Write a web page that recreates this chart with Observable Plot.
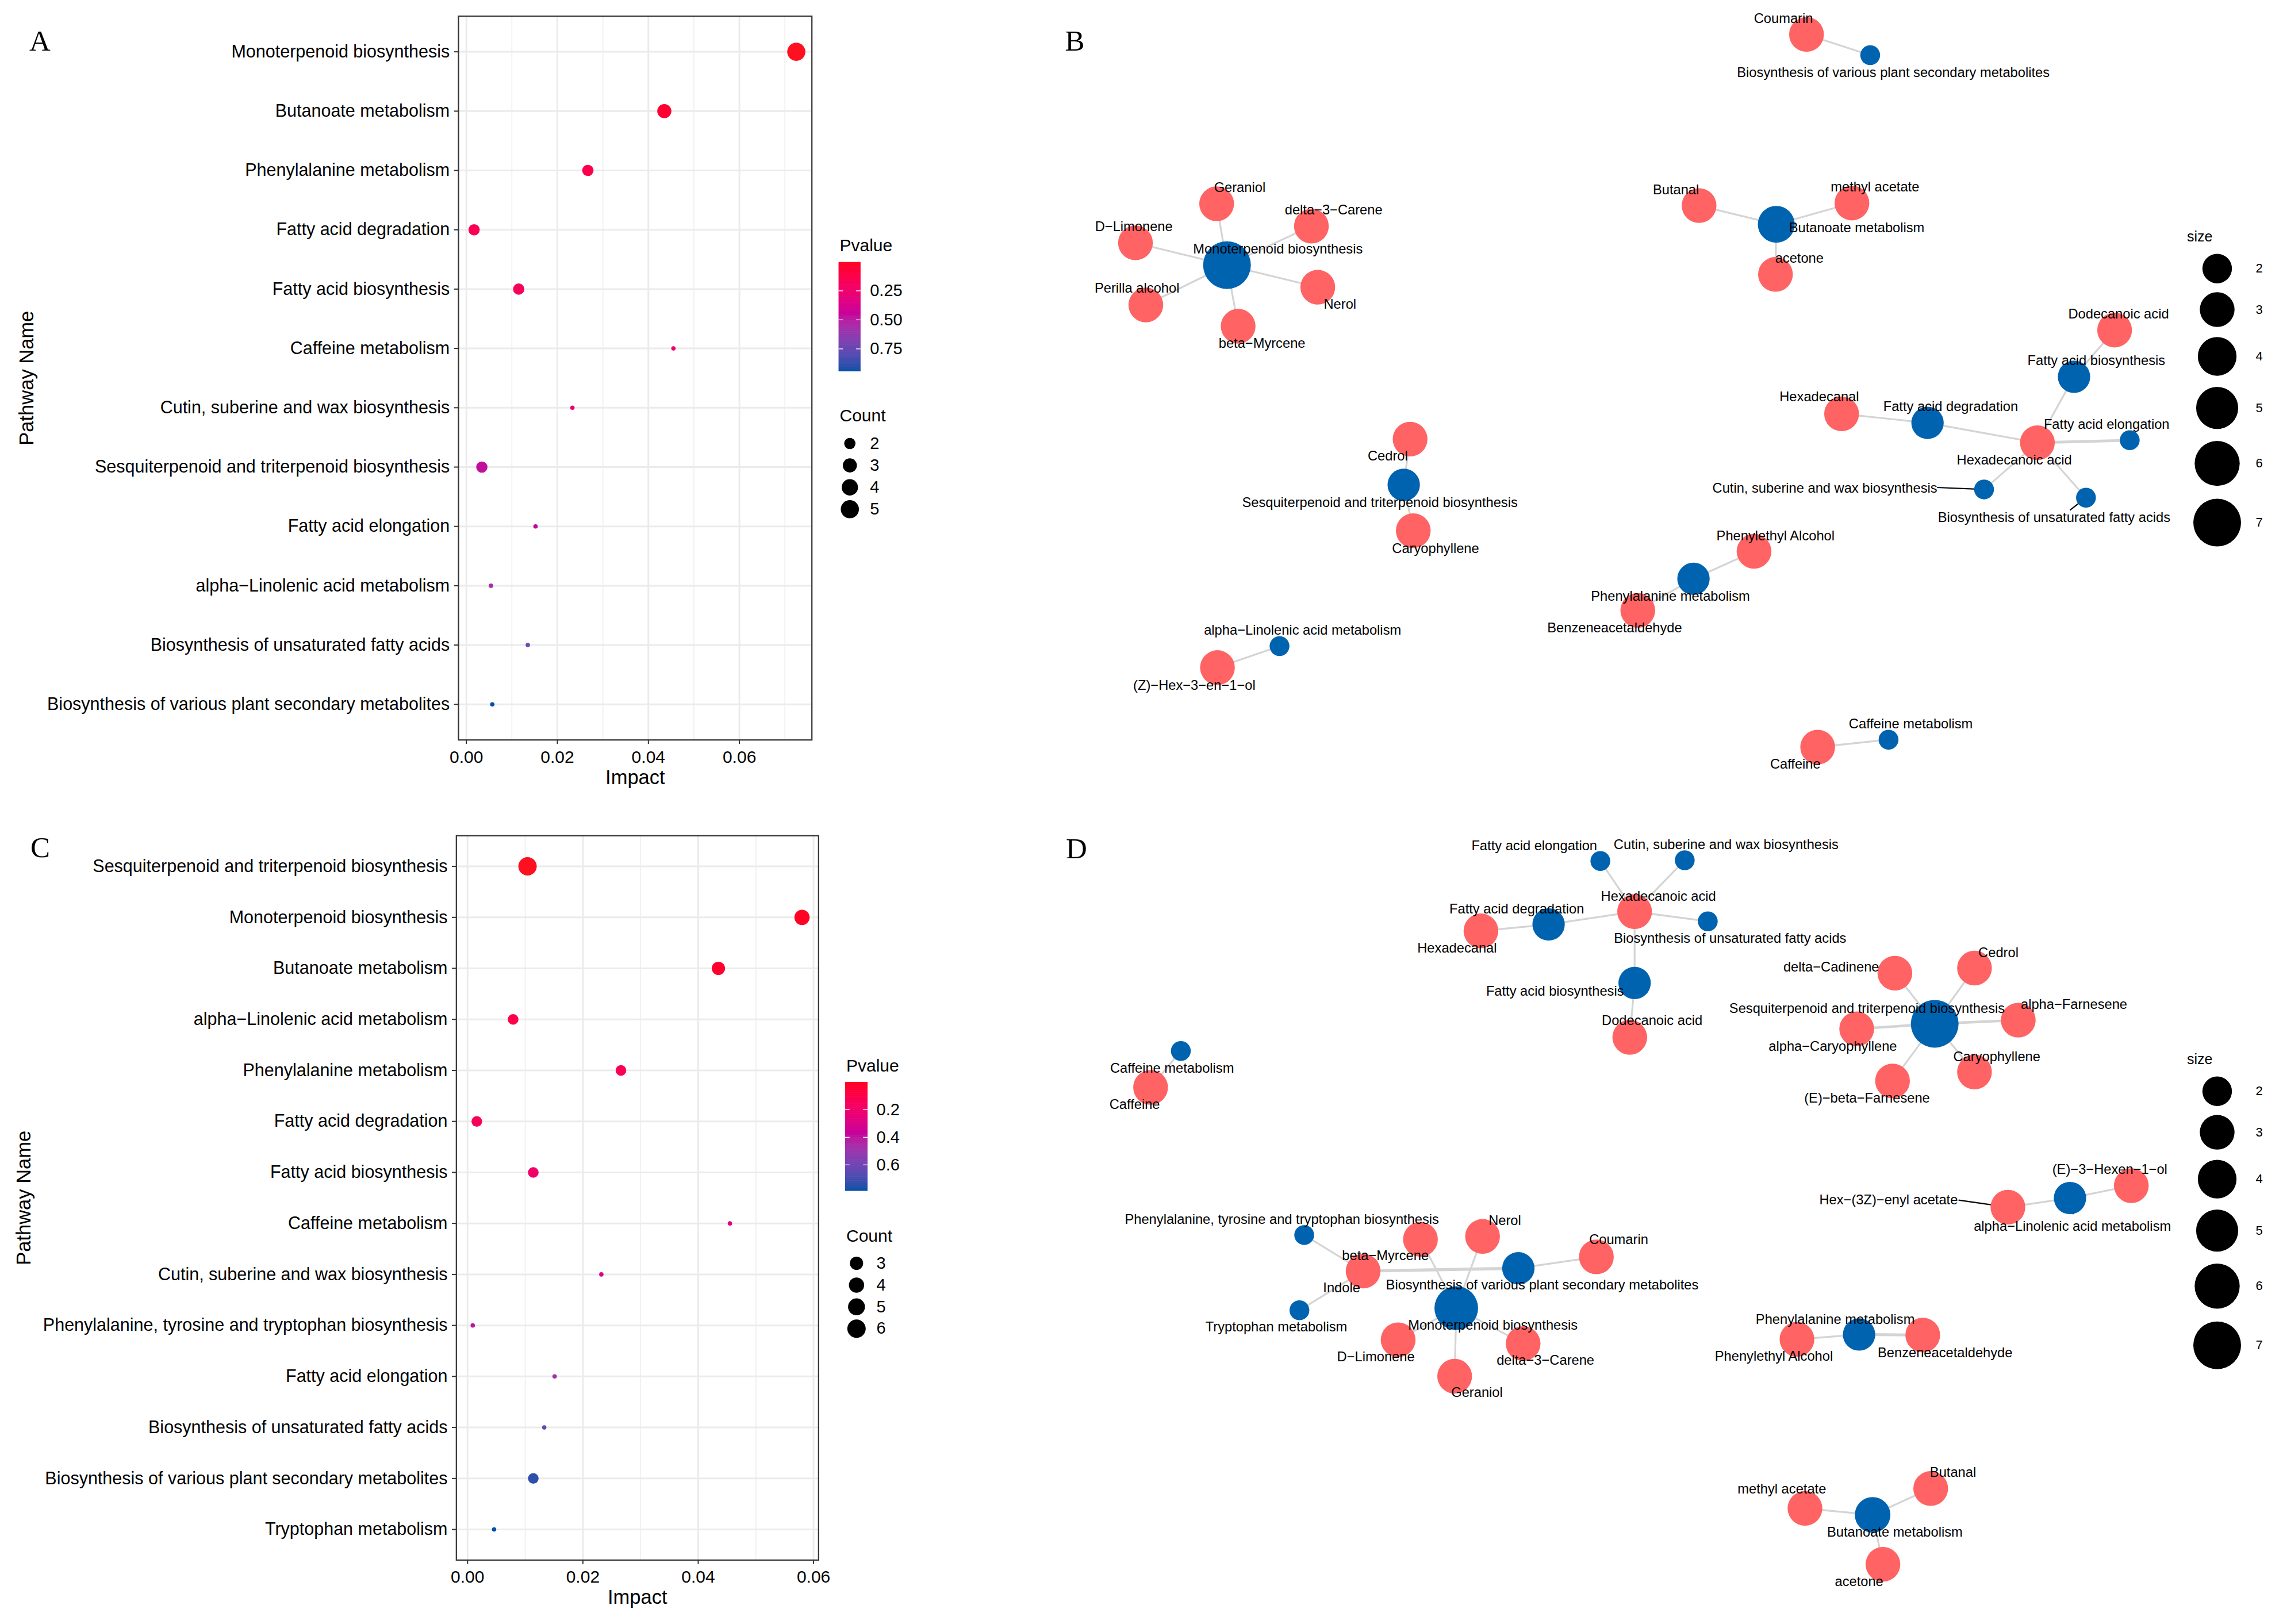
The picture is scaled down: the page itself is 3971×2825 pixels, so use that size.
<!DOCTYPE html>
<html>
<head>
<meta charset="utf-8">
<script src="https://cdn.jsdelivr.net/npm/d3@7"></script>
<script src="https://cdn.jsdelivr.net/npm/@observablehq/plot@0.6"></script>
<style>
html, body { margin: 0; padding: 0; background: #fff; }
#fig { position: relative; width: 3971px; height: 2825px; background: #fff; overflow: hidden; }
#fig svg { position: absolute; max-width: none; background: transparent; overflow: visible; }
</style>
</head>
<body>
<div id="fig"></div>
<script>
// ---------------- DATA ----------------
// Panel A : pathway enrichment (top-left)
const pathwaysA = [
  "Monoterpenoid biosynthesis",
  "Butanoate metabolism",
  "Phenylalanine metabolism",
  "Fatty acid degradation",
  "Fatty acid biosynthesis",
  "Caffeine metabolism",
  "Cutin, suberine and wax biosynthesis",
  "Sesquiterpenoid and triterpenoid biosynthesis",
  "Fatty acid elongation",
  "alpha\u2212Linolenic acid metabolism",
  "Biosynthesis of unsaturated fatty acids",
  "Biosynthesis of various plant secondary metabolites"
];
const impactA = [0.0725, 0.0435, 0.0267, 0.0017, 0.0115, 0.0455, 0.0233, 0.0034, 0.0152, 0.0054, 0.0135, 0.0057];
const pvalueA = [0.004, 0.05, 0.14, 0.16, 0.19, 0.24, 0.30, 0.47, 0.45, 0.55, 0.72, 0.946];
const countA  = [5, 3, 2, 2, 2, 1, 1, 2, 1, 1, 1, 1];
const impactTicksA = [0, 0.02, 0.04, 0.06];
const impactMinorA = [0.01, 0.03, 0.05, 0.07];
const pTicksA = [0.25, 0.50, 0.75];
const countBreaksA = [2, 3, 4, 5];

// Panel C : pathway enrichment (bottom-left)
const pathwaysC = [
  "Sesquiterpenoid and triterpenoid biosynthesis",
  "Monoterpenoid biosynthesis",
  "Butanoate metabolism",
  "alpha\u2212Linolenic acid metabolism",
  "Phenylalanine metabolism",
  "Fatty acid degradation",
  "Fatty acid biosynthesis",
  "Caffeine metabolism",
  "Cutin, suberine and wax biosynthesis",
  "Phenylalanine, tyrosine and tryptophan biosynthesis",
  "Fatty acid elongation",
  "Biosynthesis of unsaturated fatty acids",
  "Biosynthesis of various plant secondary metabolites",
  "Tryptophan metabolism"
];
const impactC = [0.0104, 0.0580, 0.0435, 0.0079, 0.0266, 0.0016, 0.0114, 0.0455, 0.0232, 0.0009, 0.0151, 0.0133, 0.0114, 0.0046];
const pvalueC = [0.0005, 0.01, 0.03, 0.10, 0.13, 0.15, 0.20, 0.27, 0.31, 0.40, 0.48, 0.63, 0.74, 0.79];
const countC  = [6, 4, 3, 2, 2, 2, 2, 1, 1, 1, 1, 1, 2, 1];
const impactTicksC = [0, 0.02, 0.04, 0.06];
const impactMinorC = [0.01, 0.03, 0.05];
const pTicksC = [0.2, 0.4, 0.6];
const countBreaksC = [3, 4, 5, 6];

// Panel B network: [name, kind, size, layoutX, layoutY, labelX, labelY]
const nodesB = [
  ["Coumarin", "compound", 3, 134.17, 5.94, 130.16, 3.21],
  ["Biosynthesis of various plant secondary metabolites", "pathway", 1.05, 145.25, 9.55, 149.27, 12.63],
  ["Monoterpenoid biosynthesis", "pathway", 7, 33.37, 46.07, 42.23, 43.30],
  ["Geraniol", "compound", 3, 31.57, 35.40, 35.59, 32.59],
  ["delta\u22123\u2212Carene", "compound", 3, 48.05, 39.29, 51.92, 36.52],
  ["D\u2212Limonene", "compound", 3, 17.45, 42.19, 17.17, 39.38],
  ["Perilla alcohol", "compound", 3, 19.25, 53.00, 17.72, 50.13],
  ["beta\u2212Myrcene", "compound", 3, 35.31, 56.70, 39.46, 59.73],
  ["Nerol", "compound", 3, 49.16, 49.91, 53.03, 52.90],
  ["Butanoate metabolism", "pathway", 3.5, 128.91, 38.97, 142.90, 39.64],
  ["Butanal", "compound", 3, 115.48, 35.71, 111.46, 32.95],
  ["methyl acetate", "compound", 3, 142.07, 35.27, 146.08, 32.50],
  ["acetone", "compound", 3, 128.77, 47.68, 132.93, 44.87],
  ["Dodecanoic acid", "compound", 3, 187.76, 57.37, 188.45, 54.55],
  ["Fatty acid biosynthesis", "pathway", 2.5, 180.70, 65.49, 184.58, 62.72],
  ["Hexadecanal", "compound", 3, 140.27, 71.94, 136.39, 68.97],
  ["Fatty acid degradation", "pathway", 2.5, 155.22, 73.51, 159.24, 70.74],
  ["Hexadecanoic acid", "compound", 3, 174.33, 76.96, 170.31, 79.97],
  ["Fatty acid elongation", "pathway", 1.05, 190.39, 76.53, 186.37, 73.75],
  ["Cutin, suberine and wax biosynthesis", "pathway", 1.05, 165.05, 85.09, 137.36, 84.85],
  ["Biosynthesis of unsaturated fatty acids", "pathway", 1.05, 182.78, 86.52, 177.24, 89.97],
  ["Cedrol", "compound", 3, 65.22, 76.34, 61.34, 79.25],
  ["Sesquiterpenoid and triterpenoid biosynthesis", "pathway", 2.5, 64.11, 84.28, 59.96, 87.38],
  ["Caryophyllene", "compound", 3, 65.77, 92.26, 69.65, 95.37],
  ["Phenylethyl Alcohol", "compound", 3, 125.04, 95.85, 128.78, 93.22],
  ["Phenylalanine metabolism", "pathway", 2.5, 114.51, 100.63, 110.50, 103.74],
  ["Benzeneacetaldehyde", "compound", 3, 104.82, 106.13, 100.80, 109.24],
  ["alpha\u2212Linolenic acid metabolism", "pathway", 1.05, 42.51, 112.35, 46.52, 109.63],
  ["(Z)\u2212Hex\u22123\u2212en\u22121\u2212ol", "compound", 3, 31.71, 116.08, 27.69, 119.19],
  ["Caffeine metabolism", "pathway", 1.05, 148.44, 128.62, 152.31, 125.89],
  ["Caffeine", "compound", 3, 136.11, 129.91, 132.23, 132.92]
];
// [source, target, weight]
const edgesB = [
  ["Coumarin", "Biosynthesis of various plant secondary metabolites", 1],
  ["Monoterpenoid biosynthesis", "Geraniol", 1],
  ["Monoterpenoid biosynthesis", "delta\u22123\u2212Carene", 1],
  ["Monoterpenoid biosynthesis", "D\u2212Limonene", 1],
  ["Monoterpenoid biosynthesis", "Perilla alcohol", 1],
  ["Monoterpenoid biosynthesis", "beta\u2212Myrcene", 1],
  ["Monoterpenoid biosynthesis", "Nerol", 1],
  ["Butanoate metabolism", "Butanal", 1],
  ["Butanoate metabolism", "methyl acetate", 1],
  ["Butanoate metabolism", "acetone", 1],
  ["Dodecanoic acid", "Fatty acid biosynthesis", 1],
  ["Fatty acid biosynthesis", "Hexadecanoic acid", 1],
  ["Hexadecanal", "Fatty acid degradation", 1],
  ["Fatty acid degradation", "Hexadecanoic acid", 1],
  ["Hexadecanoic acid", "Fatty acid elongation", 1.5],
  ["Hexadecanoic acid", "Cutin, suberine and wax biosynthesis", 1],
  ["Hexadecanoic acid", "Biosynthesis of unsaturated fatty acids", 1],
  ["Cedrol", "Sesquiterpenoid and triterpenoid biosynthesis", 1],
  ["Sesquiterpenoid and triterpenoid biosynthesis", "Caryophyllene", 1],
  ["Phenylethyl Alcohol", "Phenylalanine metabolism", 1],
  ["Phenylalanine metabolism", "Benzeneacetaldehyde", 1],
  ["alpha\u2212Linolenic acid metabolism", "(Z)\u2212Hex\u22123\u2212en\u22121\u2212ol", 1],
  ["Caffeine metabolism", "Caffeine", 1]
];
// label leader lines: [node, startX, startY]
const leadersB = [
  ["Cutin, suberine and wax biosynthesis", 156.88, 84.75],
  ["Biosynthesis of unsaturated fatty acids", 180.00, 88.68]
];

// Panel D network
const nodesD = [
  ["Fatty acid elongation", "pathway", 1.05, 98.31, 9.73, 86.82, 7.05],
  ["Cutin, suberine and wax biosynthesis", "pathway", 1.05, 112.99, 9.60, 120.19, 6.92],
  ["Hexadecanoic acid", "compound", 3, 104.27, 18.53, 108.42, 15.85],
  ["Fatty acid degradation", "pathway", 2.5, 89.31, 20.76, 83.77, 18.08],
  ["Hexadecanal", "compound", 3, 77.54, 21.88, 73.39, 24.91],
  ["Biosynthesis of unsaturated fatty acids", "pathway", 1.05, 117.00, 20.22, 120.88, 23.21],
  ["Fatty acid biosynthesis", "pathway", 2.5, 104.27, 30.94, 90.42, 32.37],
  ["Dodecanoic acid", "compound", 3, 103.43, 40.40, 107.31, 37.50],
  ["delta\u2212Cadinene", "compound", 3, 149.54, 29.24, 138.47, 28.21],
  ["Cedrol", "compound", 3, 163.39, 28.35, 167.55, 25.67],
  ["Sesquiterpenoid and triterpenoid biosynthesis", "pathway", 7, 156.47, 38.04, 144.70, 35.36],
  ["alpha\u2212Farnesene", "compound", 3, 171.00, 37.41, 180.70, 34.69],
  ["alpha\u2212Caryophyllene", "compound", 3, 142.90, 38.93, 138.74, 41.96],
  ["Caryophyllene", "compound", 3, 163.39, 46.43, 167.27, 43.75],
  ["(E)\u2212beta\u2212Farnesene", "compound", 3, 149.13, 47.99, 144.70, 50.98],
  ["Caffeine metabolism", "pathway", 1.05, 25.34, 42.77, 23.82, 45.76],
  ["Caffeine", "compound", 3, 20.08, 49.11, 17.31, 52.14],
  ["Hex\u2212(3Z)\u2212enyl acetate", "compound", 3, 169.20, 69.94, 148.44, 68.71],
  ["alpha\u2212Linolenic acid metabolism", "pathway", 2.5, 180.00, 68.36, 180.42, 73.30],
  ["(E)\u22123\u2212Hexen\u22121\u2212ol", "compound", 3, 190.67, 66.20, 186.93, 63.39],
  ["Phenylalanine, tyrosine and tryptophan biosynthesis", "pathway", 1.05, 46.80, 74.79, 42.92, 72.07],
  ["beta\u2212Myrcene", "compound", 3, 67.02, 75.53, 60.92, 78.35],
  ["Nerol", "compound", 3, 77.82, 75.03, 81.70, 72.31],
  ["Coumarin", "compound", 3, 97.62, 78.59, 101.50, 75.63],
  ["Indole", "compound", 3, 57.05, 81.06, 53.31, 84.03],
  ["Biosynthesis of various plant secondary metabolites", "pathway", 2.5, 84.05, 80.57, 88.20, 83.53],
  ["Tryptophan metabolism", "pathway", 1.05, 45.97, 87.88, 41.95, 90.80],
  ["Monoterpenoid biosynthesis", "pathway", 5.5, 73.25, 87.49, 79.62, 90.45],
  ["D\u2212Limonene", "compound", 3, 63.14, 93.02, 59.26, 96.04],
  ["delta\u22123\u2212Carene", "compound", 3, 84.88, 93.67, 88.76, 96.63],
  ["Geraniol", "compound", 3, 72.97, 99.35, 76.85, 102.17],
  ["Phenylalanine metabolism", "pathway", 2.5, 143.31, 92.09, 139.16, 89.47],
  ["Phenylethyl Alcohol", "compound", 3, 132.51, 92.93, 128.50, 95.89],
  ["Benzeneacetaldehyde", "compound", 3, 154.39, 92.19, 158.27, 95.25],
  ["Butanal", "compound", 3, 155.77, 118.88, 159.65, 116.06],
  ["methyl acetate", "compound", 3, 133.90, 122.33, 129.88, 119.02],
  ["Butanoate metabolism", "pathway", 3.2, 145.67, 123.47, 149.54, 126.54],
  ["acetone", "compound", 3, 147.46, 132.07, 143.31, 135.09]
];
const edgesD = [
  ["Fatty acid elongation", "Hexadecanoic acid", 1],
  ["Cutin, suberine and wax biosynthesis", "Hexadecanoic acid", 1],
  ["Hexadecanoic acid", "Fatty acid degradation", 1],
  ["Fatty acid degradation", "Hexadecanal", 1],
  ["Hexadecanoic acid", "Biosynthesis of unsaturated fatty acids", 1],
  ["Hexadecanoic acid", "Fatty acid biosynthesis", 1],
  ["Fatty acid biosynthesis", "Dodecanoic acid", 1],
  ["Sesquiterpenoid and triterpenoid biosynthesis", "delta\u2212Cadinene", 1],
  ["Sesquiterpenoid and triterpenoid biosynthesis", "Cedrol", 1],
  ["Sesquiterpenoid and triterpenoid biosynthesis", "alpha\u2212Farnesene", 1.4],
  ["Sesquiterpenoid and triterpenoid biosynthesis", "alpha\u2212Caryophyllene", 1.4],
  ["Sesquiterpenoid and triterpenoid biosynthesis", "Caryophyllene", 1],
  ["Sesquiterpenoid and triterpenoid biosynthesis", "(E)\u2212beta\u2212Farnesene", 1],
  ["Caffeine metabolism", "Caffeine", 1],
  ["alpha\u2212Linolenic acid metabolism", "Hex\u2212(3Z)\u2212enyl acetate", 1],
  ["alpha\u2212Linolenic acid metabolism", "(E)\u22123\u2212Hexen\u22121\u2212ol", 1],
  ["Phenylalanine, tyrosine and tryptophan biosynthesis", "Indole", 1],
  ["Indole", "Tryptophan metabolism", 1],
  ["Indole", "Biosynthesis of various plant secondary metabolites", 1.7],
  ["Biosynthesis of various plant secondary metabolites", "Coumarin", 1],
  ["Monoterpenoid biosynthesis", "beta\u2212Myrcene", 1],
  ["Monoterpenoid biosynthesis", "Nerol", 1],
  ["Monoterpenoid biosynthesis", "D\u2212Limonene", 1],
  ["Monoterpenoid biosynthesis", "delta\u22123\u2212Carene", 1],
  ["Monoterpenoid biosynthesis", "Geraniol", 1],
  ["Phenylalanine metabolism", "Phenylethyl Alcohol", 1],
  ["Phenylalanine metabolism", "Benzeneacetaldehyde", 1.6],
  ["Butanoate metabolism", "Butanal", 1],
  ["Butanoate metabolism", "methyl acetate", 1],
  ["Butanoate metabolism", "acetone", 1]
];
const leadersD = [
  ["Hex\u2212(3Z)\u2212enyl acetate", 160.62, 68.71],
  ["alpha\u2212Linolenic acid metabolism", 180.56, 71.18]
];
const sizeBreaks = [2, 3, 4, 5, 6, 7];

// ---------------- STYLE ----------------
const FONT = "'Liberation Sans', Arial, Helvetica, sans-serif";
const SERIF = "'Liberation Serif', 'Times New Roman', serif";
const P_LOW = "#FF1020", P_HIGH = "#0050A5";
const NODE_RED = "#FF6363", NODE_BLUE = "#0063B0";
const baseStyle = {fontFamily: FONT, color: "black", background: "transparent", overflow: "visible"};
const fig = document.getElementById("fig");
function place(svg, left, top) {
  svg.style.left = left + "px";
  svg.style.top = top + "px";
  fig.appendChild(svg);
}
const pColor = (domain) => ({type: "linear", domain, range: [P_LOW, P_HIGH], interpolate: "hcl"});

// ---------------- SCATTER PANELS ----------------
function scatterPanel(c) {
  const rows = c.pathways.map((p, i) => ({pathway: p, impact: c.impact[i], pvalue: c.pvalue[i], count: c.count[i]}));
  const rr = v => Math.sqrt(Math.max(0, v - c.countDomain[0]) / (c.countDomain[1] - c.countDomain[0]));
  const [L, R, T, B] = c.frame;
  const top = c.top, W = c.width, H = c.height;
  const cx = (L + R) / 2, cy = (T + B) / 2;   // frame centre (absolute)
  const svg = Plot.plot({
    width: W, height: H,
    marginLeft: L, marginRight: W - R, marginTop: T - top, marginBottom: top + H - B,
    style: baseStyle,
    x: {domain: c.xDomain},
    y: {type: "point", domain: c.pathways, padding: 0.6, round: false},
    r: {type: "linear", domain: [0, 1], range: c.rRange},
    color: pColor(c.pDomain),
    marks: [
      Plot.ruleX(c.minor, {stroke: "#F0F0F0", strokeWidth: 1.8}),
      Plot.ruleX(c.ticks, {stroke: "#EBEBEB", strokeWidth: 3}),
      Plot.ruleY(c.pathways, {stroke: "#EBEBEB", strokeWidth: 3}),
      Plot.dot(rows, {x: "impact", y: "pathway", r: d => rr(d.count), fill: "pvalue"}),
      Plot.frame({stroke: "#333333", strokeWidth: 2.2}),
      Plot.axisX(c.ticks, {tickSize: 7.3, tickPadding: 11, tickFormat: d => d.toFixed(2), fontSize: 30,
        stroke: "#333333", strokeWidth: 2, fill: "black", label: null}),
      Plot.axisY({tickSize: 7.3, tickPadding: 8, fontSize: 30.5, stroke: "#333333", strokeWidth: 2,
        fill: "black", label: null}),
      Plot.text(["Impact"], {frameAnchor: "middle", dy: c.xlabelY - cy, lineAnchor: "bottom",
        fontSize: 34.5, fill: "black"}),
      Plot.text(["Pathway Name"], {frameAnchor: "middle", dx: c.ylabelX - cx, rotate: -90,
        fontSize: 34.5, fill: "black"}),
      Plot.text([c.letter], {frameAnchor: "middle", dx: c.letterPos[0] - cx, dy: c.letterPos[1] - cy,
        fontFamily: SERIF, fontSize: 51, fill: "black"})
    ]
  });
  place(svg, 0, top);

  // colour bar legend
  const lg = c.legend;
  const LL = lg.left, LT = lg.top, LW = 200, LH = 560;
  const [p0, p1] = c.pDomain;
  const n = 240, dp = (p1 - p0) / n;
  const slices = d3.range(n).map(i => p0 + dp * i);
  const bar = Plot.plot({
    width: LW, height: LH, margin: 0, style: baseStyle,
    x: {domain: [0, 1], range: [lg.barX[0] - LL, lg.barX[1] - LL], axis: null},
    y: {domain: c.pDomain, range: [lg.barY[0] - LT, lg.barY[1] - LT], axis: null},
    color: pColor(c.pDomain),
    marks: [
      Plot.rect(slices, {x1: 0, x2: 1, y1: d => d, y2: d => Math.min(p1, d + dp * 1.8), fill: d => d + dp / 2, inset: 0}),
      Plot.ruleY(c.pTicks, {x1: 0, x2: 0.2, stroke: "white", strokeWidth: 1.3}),
      Plot.ruleY(c.pTicks, {x1: 0.8, x2: 1, stroke: "white", strokeWidth: 1.3}),
      Plot.text(c.pTicks, {x: 1, y: d => d, dx: lg.labelX - lg.barX[1], text: c.pFormat, textAnchor: "start",
        lineAnchor: "middle", fontSize: 29, fill: "black"}),
      Plot.text(["Pvalue"], {frameAnchor: "top-left", dx: lg.titleX - LL, dy: lg.pTitleY - LT, textAnchor: "start",
        lineAnchor: "middle", fontSize: 30, fill: "black"}),
      Plot.text(["Count"], {frameAnchor: "top-left", dx: lg.titleX - LL, dy: lg.cTitleY - LT, textAnchor: "start",
        lineAnchor: "middle", fontSize: 30, fill: "black"})
    ]
  });
  place(bar, LL, LT);

  // count (size) legend
  const keys = c.countBreaks;
  const y0 = lg.dotY0 - LT, y1 = y0 + lg.dotStep * (keys.length - 1);
  const cnt = Plot.plot({
    width: LW, height: LH, margin: 0, style: baseStyle,
    y: {domain: [keys[0], keys[keys.length - 1]], range: [y0, y1], axis: null},
    r: {type: "linear", domain: [0, 1], range: c.rRange},
    marks: [
      Plot.dot(keys, {y: d => d, r: d => rr(d), frameAnchor: "left", dx: lg.dotX - LL, fill: "black"}),
      Plot.text(keys, {y: d => d, frameAnchor: "left", dx: lg.labelX - LL, text: d => String(d), textAnchor: "start",
        lineAnchor: "middle", fontSize: 29, fill: "black"})
    ]
  });
  place(cnt, LL, LT);
}

scatterPanel({
  pathways: pathwaysA, impact: impactA, pvalue: pvalueA, count: countA,
  top: 0, width: 1460, height: 1400,
  frame: [797, 1411.7, 27.7, 1286.7],
  xDomain: [-0.00173, 0.07593],
  ticks: impactTicksA, minor: impactMinorA,
  countDomain: [1, 5], rRange: [3.8, 15.8],
  pDomain: [0.004, 0.946], pTicks: pTicksA, pFormat: d => d.toFixed(2),
  countBreaks: countBreaksA,
  xlabelY: 1363.3, ylabelX: 46.2, letter: "A", letterPos: [69, 71],
  legend: {left: 1440, top: 380, barX: [1458.7, 1496.7], barY: [455.7, 646], labelX: 1512.7,
    titleX: 1460, pTitleY: 426.4, cTitleY: 722.9, dotX: 1477.7, dotY0: 771, dotStep: 38.1}
});

scatterPanel({
  pathways: pathwaysC, impact: impactC, pvalue: pvalueC, count: countC,
  top: 1400, width: 1460, height: 1425,
  frame: [793.3, 1423.3, 1453.3, 2713.3],
  xDomain: [-0.00194, 0.06087],
  ticks: impactTicksC, minor: impactMinorC,
  countDomain: [1, 6], rRange: [3.8, 16],
  pDomain: [0.0005, 0.79], pTicks: pTicksC, pFormat: d => d.toFixed(1),
  countBreaks: countBreaksC,
  xlabelY: 2789.3, ylabelX: 41.6, letter: "C", letterPos: [69.4, 1474.5],
  legend: {left: 1450, top: 1800, barX: [1470, 1509], barY: [1882, 2071.4], labelX: 1524,
    titleX: 1471.5, pTitleY: 1853.6, cTitleY: 2150, dotX: 1489.3, dotY0: 2197, dotStep: 37.9}
});

// ---------------- NETWORK PANELS ----------------
const R_MIN = 14.8, R_MAX = 41.5;
const sizeT = s => Math.sqrt(Math.max(0, s - 1) / 6);
const sizePx = s => R_MIN + (R_MAX - R_MIN) * sizeT(s);

function networkPanel(c) {
  const nodes = c.nodes.map(([name, kind, size, x, y, lx, ly]) => ({name, kind, size, x, y, lx, ly}));
  const byName = new Map(nodes.map(d => [d.name, d]));
  const links = c.edges.map(([s, t, w]) => ({a: byName.get(s), b: byName.get(t), w}));
  const leaders = c.leaders.map(([name, x, y]) => ({node: byName.get(name), x, y}));
  const svg = Plot.plot({
    width: c.width, height: c.height, margin: 0, style: baseStyle,
    x: {domain: [0, c.width / 10], range: [0, c.width], axis: null},
    y: {domain: [0, c.height / 10], range: [0, c.height], axis: null},
    r: {type: "linear", domain: [0, 1], range: [R_MIN, R_MAX]},
    color: {domain: ["compound", "pathway"], range: [NODE_RED, NODE_BLUE]},
    marks: [
      Plot.link(links, {x1: d => d.a.x, y1: d => d.a.y, x2: d => d.b.x, y2: d => d.b.y,
        stroke: "#D4D4D4", strokeWidth: d => 3.2 * d.w}),
      Plot.link(leaders, {x1: "x", y1: "y", x2: d => d.node.x, y2: d => d.node.y, stroke: "black", strokeWidth: 2.2}),
      Plot.dot(nodes, {x: "x", y: "y", r: d => sizeT(d.size), fill: "kind", sort: null}),
      Plot.text(nodes, {x: "lx", y: "ly", text: "name", fontSize: 23.7, fill: "black"}),
      Plot.text([c.letter], {frameAnchor: "middle", dx: c.letterPos[0] - c.width / 2, dy: c.letterPos[1] - c.height / 2,
        fontFamily: SERIF, fontSize: 51, fill: "black"})
    ]
  });
  place(svg, c.left, c.top);

  // size legend
  const lg = c.legend;
  const LW = 191, LH = 620;
  let yy = lg.firstY;
  const keys = sizeBreaks.map((k, i) => {
    if (i) yy += 1.275 * (sizePx(sizeBreaks[i - 1]) + sizePx(k));
    return {k, y: yy - lg.top};
  });
  const leg = Plot.plot({
    width: LW, height: LH, margin: 0, style: baseStyle,
    y: {domain: [0, LH], range: [0, LH], axis: null},
    r: {type: "linear", domain: [0, 1], range: [R_MIN, R_MAX]},
    marks: [
      Plot.dot(keys, {y: "y", r: d => sizeT(d.k), frameAnchor: "left", dx: lg.dotX - lg.left, fill: "black"}),
      Plot.text(keys, {y: "y", text: d => String(d.k), frameAnchor: "left", dx: lg.labelX - lg.left,
        textAnchor: "start", lineAnchor: "middle", fontSize: 22, fill: "black"}),
      Plot.text(["size"], {frameAnchor: "top-left", dx: lg.titleX - lg.left, dy: lg.titleY - lg.top,
        textAnchor: "start", lineAnchor: "middle", fontSize: 25, fill: "black"})
    ]
  });
  place(leg, lg.left, lg.top);
}

networkPanel({
  nodes: nodesB, edges: edgesB, leaders: leadersB,
  left: 1800, top: 0, width: 2171, height: 1400,
  letter: "B", letterPos: [69, 71.4],
  legend: {left: 3780, top: 380, titleX: 3803.5, titleY: 411.7, firstY: 466.7, dotX: 3856, labelX: 3923}
});

networkPanel({
  nodes: nodesD, edges: edgesD, leaders: leadersD,
  left: 1800, top: 1400, width: 2171, height: 1425,
  letter: "D", letterPos: [72, 75.9],
  legend: {left: 3780, top: 1800, titleX: 3803.5, titleY: 1842, firstY: 1897.8, dotX: 3856, labelX: 3923}
});
</script>
</body>
</html>
